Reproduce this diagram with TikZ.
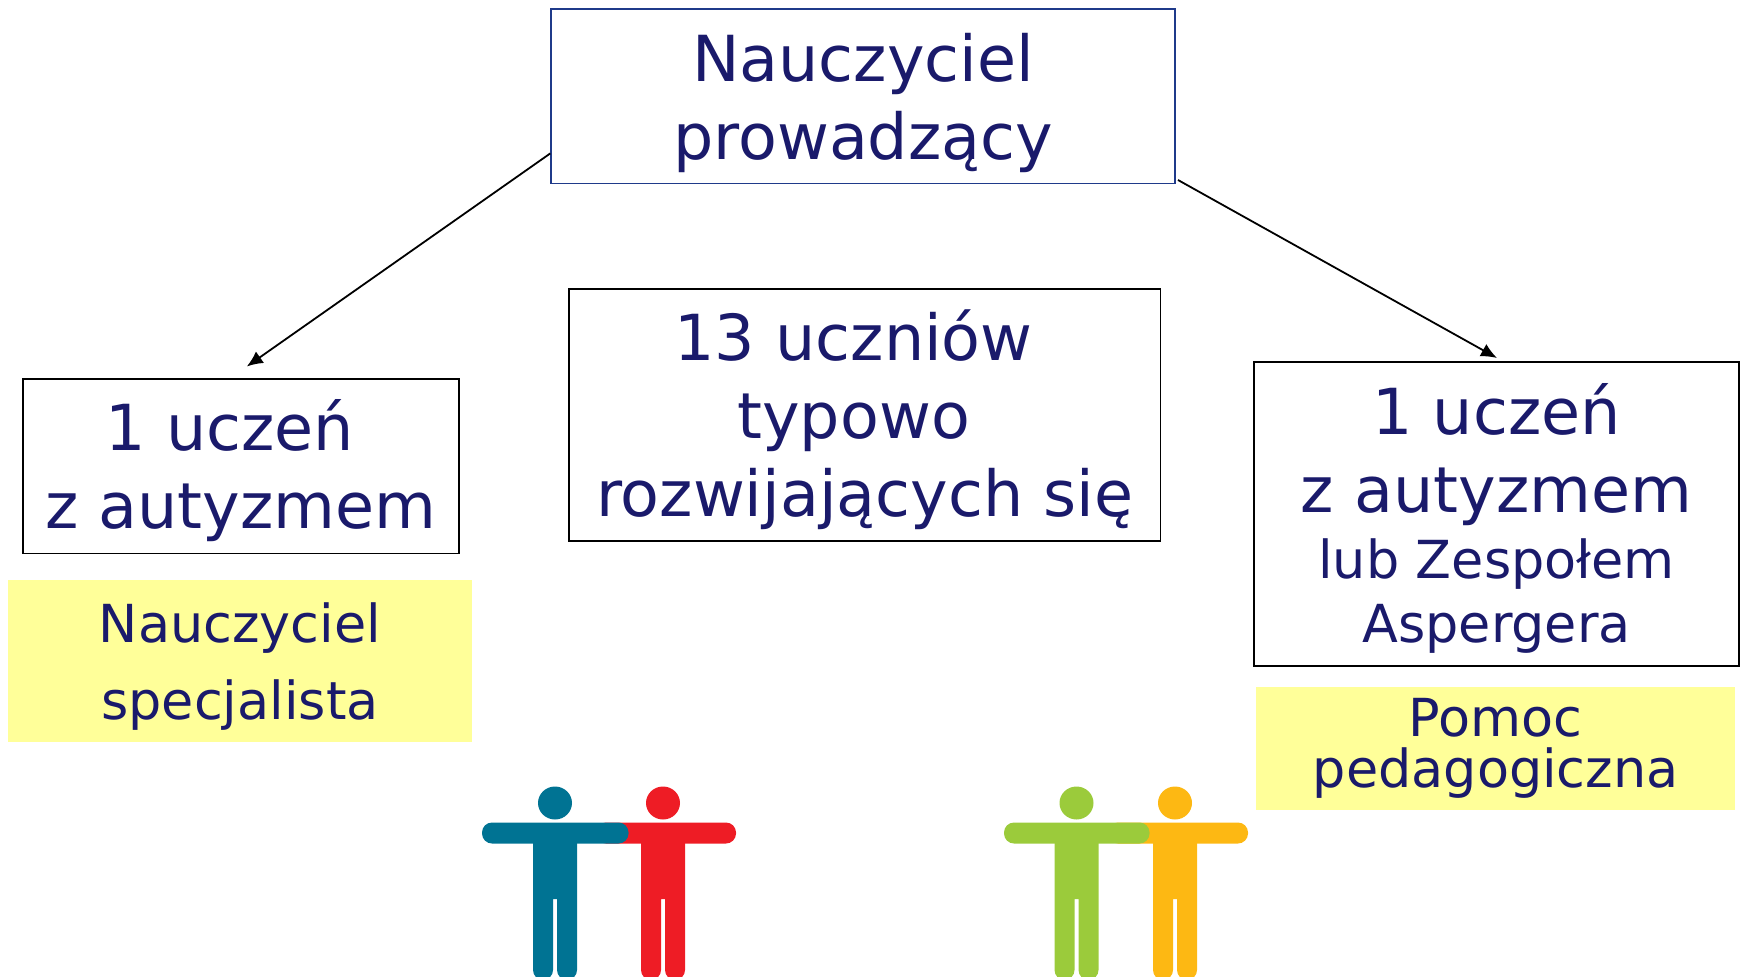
\documentclass[tikz,border=0pt]{standalone}
\usepackage{fontspec}
\setmainfont{DejaVu Sans}
\usetikzlibrary{arrows.meta}
\definecolor{navy}{HTML}{1A1A6B}
\definecolor{edgeblue}{HTML}{1F3A8A}
\definecolor{paleyellow}{HTML}{FFFF99}
\definecolor{figblue}{HTML}{007393}
\definecolor{figred}{HTML}{EE1C25}
\definecolor{figgreen}{HTML}{9BCB3B}
\definecolor{figorange}{HTML}{FDB813}
\newcommand{\bigtxt}{\fontsize{63.5}{78}\selectfont}
\newcommand{\smalltxt}{\fontsize{52.4}{78}\selectfont}
\newcommand{\tpad}[1]{\mbox{#1\kern22pt}}
\newcommand{\lift}[1]{\rule{0pt}{#1pt}}
% #1 centre x, #2 left arm extent, #3 right arm extent, #4 colour
\newcommand{\personfig}[4]{%
  \begin{scope}[shift={(#1,0)}]
    \fill[#4] (0,803) ellipse [x radius=17, y radius=16.5];
    \fill[#4, rounded corners=10] (#2,822.5) rectangle (#3,843.5);
    \fill[#4] (-22,835) -- (22,835) [rounded corners=10] -- (22,980) -- (2,980) [sharp corners] -- (2,899) -- (-2,899) [rounded corners=10] -- (-2,980) -- (-22,980) [sharp corners] -- cycle;
  \end{scope}}
\tikzset{
  box/.style={draw=black, line width=1.8pt, inner sep=0pt, text=navy, align=center, anchor=north west},
  note/.style={fill=paleyellow, inner sep=0pt, text=navy, align=center, anchor=north west},
  link/.style={draw=black, line width=1.8pt, -{Latex[length=16pt,width=14pt]}}
}
\begin{document}
\begin{tikzpicture}[x=1pt,y=-1pt]
\useasboundingbox (0,0) rectangle (1743,977);
\node[box, draw=edgeblue, minimum width=623.7pt, minimum height=174.5pt, font=\bigtxt] (boss) at (550.3,8) {\lift{62}Nauczyciel\\prowadzący};
\node[box, minimum width=436pt, minimum height=174.6pt, font=\bigtxt] (left) at (22,378) {\lift{60.5}\tpad{1 uczeń}\\z autyzmem};
\node[box, minimum width=591.5pt, minimum height=252.4pt, font=\bigtxt] (mid) at (568,288) {\lift{60.5}\tpad{13 uczniów}\\\tpad{typowo}\\rozwijających się};
\node[box, minimum width=485pt, minimum height=303.5pt, font=\bigtxt] (right) at (1253.2,361.4) {\lift{60}1 uczeń\\z autyzmem\\[-12pt]\smalltxt lub Zespołem\\[-14pt]\smalltxt Aspergera};
\node[note, minimum width=463.5pt, minimum height=161.5pt, font=\fontsize{52.4}{77}\selectfont] (spec) at (8,580) {\lift{51}Nauczyciel\\specjalista};
\node[note, minimum width=479pt, minimum height=123pt, font=\fontsize{52.4}{51}\selectfont] (pomoc) at (1256,687) {\lift{38}Pomoc\\pedagogiczna};
\coordinate (bossL) at (550.3,153.4);
\coordinate (leftT) at (246.8,366.5);
\coordinate (bossR) at (1178,180);
\coordinate (rightT) at (1497,358);
\draw[link] (bossL) -- (leftT);
\draw[link] (bossR) -- (rightT);
\personfig{663}{-67}{73}{figred}
\personfig{555}{-73}{73.5}{figblue}
\personfig{1175}{-67}{73}{figorange}
\personfig{1076.5}{-72.5}{73}{figgreen}
\end{tikzpicture}
\end{document}
